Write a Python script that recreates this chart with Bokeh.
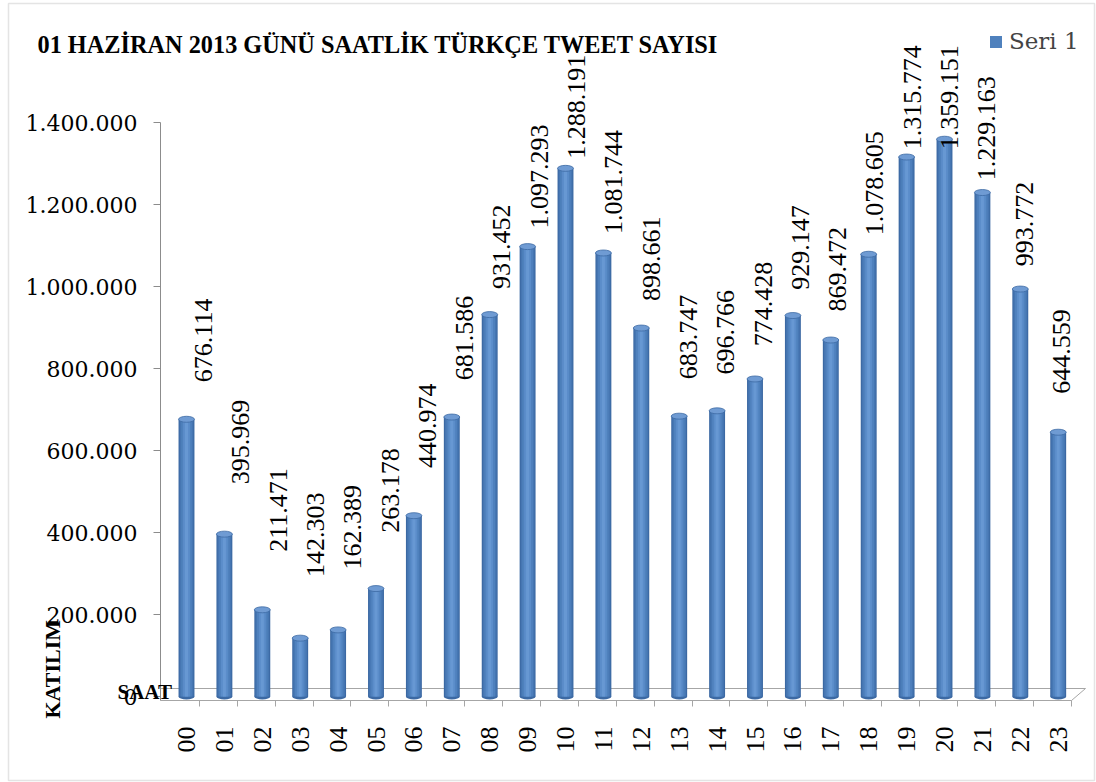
import math
from bokeh.plotting import figure
from bokeh.models import (ColumnDataSource, Range1d, Label, Legend, LegendItem,
                          CustomJSTickFormatter, FixedTicker, BoxAnnotation)
from bokeh.core.properties import value
from bokeh.embed import file_html
from bokeh.resources import INLINE

# ---------------- data ----------------
hours = ["00", "01", "02", "03", "04", "05", "06", "07", "08", "09", "10", "11",
         "12", "13", "14", "15", "16", "17", "18", "19", "20", "21", "22", "23"]
tweets = [676114, 395969, 211471, 142303, 162389, 263178, 440974, 681586,
          931452, 1097293, 1288191, 1081744, 898661, 683747, 696766, 774428,
          929147, 869472, 1078605, 1315774, 1359151, 1229163, 993772, 644559]
y_ticks = [0, 200000, 400000, 600000, 800000, 1000000, 1200000, 1400000]
title_text = "01 HAZİRAN 2013 GÜNÜ SAATLİK TÜRKÇE TWEET SAYISI"
y_title = "KATILIM"
x_title = "SAAT"
series_name = "Seri 1"


def fmt(v):
    return f"{v:,}".replace(",", ".")


idx = list(range(len(hours)))
labels = [fmt(v) for v in tweets]
# label anchors follow the 3D projection of the original chart
label_y = [min(0.89 * v + 165000, 1335000) for v in tweets]
label_dx = [17 - 0.6 * i for i in idx]

src = ColumnDataSource(dict(i=idx, tweets=tweets, lab=labels,
                            laby=label_y, labdx=label_dx))

# ---------------- layout (pixel geometry) ----------------
W, H = 1096, 782
X_PX = 37.9           # px per category
X0_PX = 186           # px position of first category
Y_PX = 0.00041        # px per tweet
Y0_PX = 696           # px (from top) of value 0

x_lo = -X0_PX / X_PX
x_hi = x_lo + W / X_PX
y_hi = Y0_PX / Y_PX
y_lo = -(H - Y0_PX) / Y_PX

yaxis_x = (160 - X0_PX) / X_PX
xaxis_y = (Y0_PX - 700) / Y_PX
floor_y = (Y0_PX - 688) / Y_PX
xaxis_end = (1071 - X0_PX) / X_PX
floor_end = (1085 - X0_PX) / X_PX

p = figure(width=W, height=H, x_range=Range1d(x_lo, x_hi),
           y_range=Range1d(y_lo, y_hi),
           output_backend="svg", toolbar_location=None,
           min_border=0)
p.outline_line_color = None
p.xgrid.visible = False
p.ygrid.visible = False

# y axis
p.yaxis.fixed_location = yaxis_x
p.yaxis.ticker = FixedTicker(ticks=y_ticks)
p.yaxis.bounds = (xaxis_y, 1400000)
p.yaxis.formatter = CustomJSTickFormatter(
    code=r"return Math.round(tick).toString().replace(/\B(?=(\d{3})+(?!\d))/g, '.');")
p.yaxis.minor_tick_line_color = None
p.yaxis.major_tick_in = 0
p.yaxis.major_tick_out = 7
p.yaxis.axis_line_color = "#8C8C8C"
p.yaxis.major_tick_line_color = "#8C8C8C"
p.yaxis.major_label_text_font = "DejaVu Serif"
p.yaxis.major_label_text_font_size = "22px"
p.yaxis.major_label_text_color = "black"
p.yaxis.major_label_standoff = 16

# x axis (category labels at bar centres, separator ticks of the 3D floor)
p.xaxis.fixed_location = xaxis_y
p.xaxis.ticker = FixedTicker(ticks=idx, minor_ticks=[i + 0.34 for i in idx])
p.xaxis.bounds = (yaxis_x, xaxis_end)
p.xaxis.major_label_overrides = {i: h for i, h in zip(idx, hours)}
p.xaxis.major_label_orientation = math.pi / 2
p.xaxis.major_label_text_font = "Liberation Serif"
p.xaxis.major_label_text_font_size = "26px"
p.xaxis.major_label_text_color = "black"
p.xaxis.major_tick_line_color = None
p.xaxis.minor_tick_line_color = "#A6A6A6"
p.xaxis.minor_tick_in = 0
p.xaxis.minor_tick_out = 6
p.xaxis.axis_line_color = "#A6A6A6"
p.xaxis.major_label_standoff = 20

# back edge of the 3D floor
p.segment(x0=yaxis_x, y0=floor_y, x1=floor_end, y1=floor_y,
          line_color="#A6A6A6", line_width=1)
p.segment(x0=xaxis_end, y0=xaxis_y, x1=floor_end, y1=floor_y,
          line_color="#A6A6A6", line_width=1)

# cylinder-like bars (layered)
p.ellipse(x="i", y=0, width=0.42, height=6, height_units="screen",
          source=src, fill_color="#3C69A3", line_color=None)
layers = [(0.42, "#3C69A3"), (0.36, "#4676B2"), (0.28, "#4F81BD"),
          (0.18, "#5B8DCA"), (0.08, "#6798D3")]
main = None
for w, c in layers:
    r = p.vbar(x="i", top="tweets", bottom=0, width=w, source=src,
               fill_color=c, line_color=None)
    if c == "#4F81BD":
        main = r
p.ellipse(x="i", y="tweets", width=0.42, height=6, height_units="screen",
          source=src, fill_color="#6F9BD3", line_color="#3C69A3", line_width=0.8)

# data labels
p.text(x="i", y="laby", text="lab", source=src, angle=math.pi / 2,
       x_offset="labdx", text_align="left", text_baseline="middle",
       text_font=value("Liberation Serif"), text_font_size="26px",
       text_color="black")

# legend
legend = Legend(items=[LegendItem(label=series_name, renderers=[main])],
                location=(988, 728))
legend.border_line_color = None
legend.background_fill_alpha = 0
legend.label_text_font = "DejaVu Serif"
legend.label_text_font_size = "23px"
legend.glyph_width = 15
legend.glyph_height = 15
legend.margin = 0
legend.padding = 2
legend.label_standoff = 6
p.add_layout(legend)

# chart border
p.add_layout(BoxAnnotation(left=8, right=1094, bottom=2, top=779,
                           left_units="screen", right_units="screen",
                           top_units="screen", bottom_units="screen",
                           fill_color=None, line_color="#A6A6A6", line_width=1.5))

# title and axis titles
p.add_layout(Label(x=37, y=H - 44, x_units="screen", y_units="screen",
                   text=title_text, text_font="Liberation Serif",
                   text_font_style="bold", text_font_size="24.3px",
                   text_baseline="middle", text_align="left", text_color="black"))
p.add_layout(Label(x=52, y=H - 718, x_units="screen", y_units="screen",
                   text=y_title, angle=math.pi / 2, text_font="Liberation Serif",
                   text_font_style="bold", text_font_size="22px",
                   text_baseline="middle", text_align="left", text_color="black"))
p.add_layout(Label(x=117, y=H - 691, x_units="screen", y_units="screen",
                   text=x_title, text_font="Liberation Serif",
                   text_font_style="bold", text_font_size="21px",
                   text_baseline="middle", text_align="left", text_color="black"))

open("out.html", "w").write(file_html(p, INLINE))
